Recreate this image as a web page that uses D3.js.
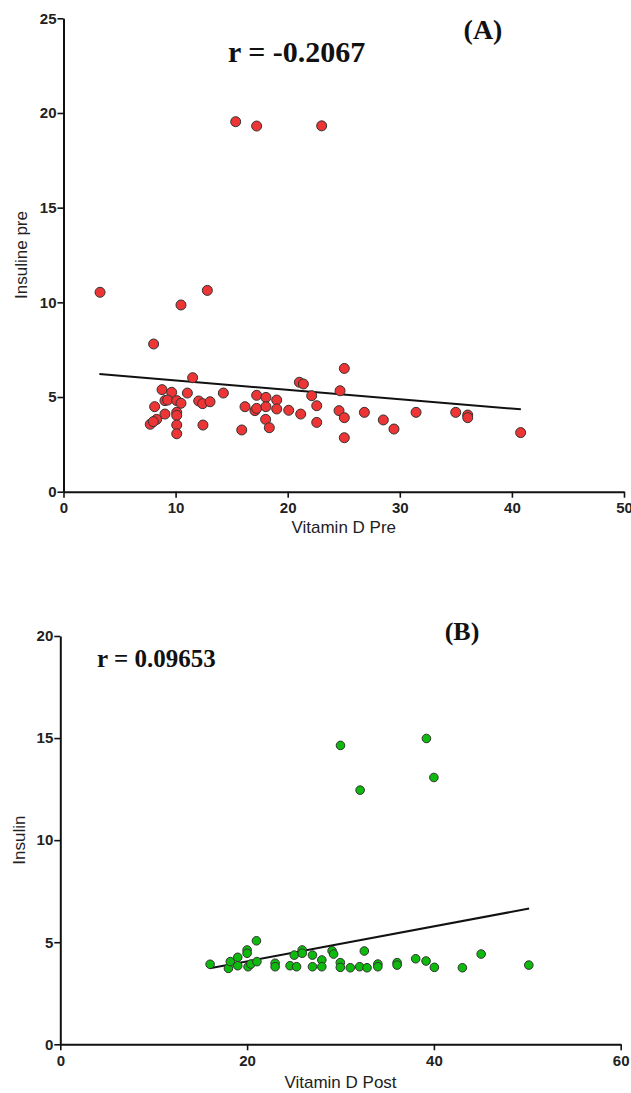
<!DOCTYPE html>
<html>
<head>
<meta charset="utf-8">
<script src="https://cdn.jsdelivr.net/npm/d3@7"></script>
<style>
  body { margin: 0; background: #fff; }
  svg { display: block; }
</style>
</head>
<body>
<div id="chart"></div>
<script>
// panel A: vitamin D pre vs insuline pre
let vitDPre = [3.26, 15.36, 17.23, 23.03, 12.83, 10.48, 8.04, 11.52, 8.79, 9.65, 11.05, 14.26, 8.13, 9.05, 9.29, 10.1, 10.48, 12.06, 12.41, 13.07, 9.05, 10.1, 10.1, 8.31, 7.74, 8.01, 10.1, 10.1, 12.44, 15.9, 16.19, 17.23, 17.08, 17.23, 18.06, 18.06, 18.03, 18.36, 19.02, 19.02, 20.09, 21.04, 21.4, 21.16, 22.14, 22.59, 22.59, 25.05, 24.67, 24.58, 25.05, 25.05, 26.84, 28.53, 29.48, 31.45, 34.99, 36.06, 36.06, 40.78];
let insPre = [10.53, 19.54, 19.31, 19.32, 10.63, 9.86, 7.80, 6.02, 5.39, 5.25, 5.21, 5.21, 4.49, 4.81, 4.84, 4.81, 4.67, 4.79, 4.65, 4.75, 4.10, 4.19, 4.03, 3.82, 3.56, 3.70, 3.52, 3.06, 3.52, 3.26, 4.49, 5.09, 4.28, 4.40, 4.98, 4.49, 3.82, 3.38, 4.84, 4.37, 4.30, 5.78, 5.69, 4.10, 5.07, 4.54, 3.66, 6.51, 5.33, 4.28, 3.91, 2.85, 4.19, 3.79, 3.31, 4.19, 4.19, 4.05, 3.91, 3.12];
let fitPre = [[3.2, 6.21], [40.8, 4.35]];
let ticksXPre = [0, 10, 20, 30, 40, 50];
let ticksYPre = [0, 5, 10, 15, 20, 25];

// panel B: vitamin D post vs insulin
let vitDPost = [30.0, 39.2, 32.1, 40.0, 16.04, 18.0, 18.2, 19.0, 19.0, 20.0, 20.0, 20.1, 20.4, 21.05, 21.0, 23.0, 23.0, 24.6, 25.3, 25.05, 25.9, 25.9, 27.0, 27.0, 28.0, 28.0, 29.1, 29.26, 29.98, 29.98, 31.05, 32.05, 32.55, 32.84, 34.0, 34.0, 36.06, 36.06, 38.05, 39.16, 40.05, 43.05, 45.06, 50.16];
let insPost = [14.64, 14.98, 12.45, 13.07, 3.92, 3.72, 4.05, 4.26, 3.85, 4.62, 4.46, 3.80, 3.93, 4.05, 5.07, 3.97, 3.80, 3.85, 3.80, 4.37, 4.62, 4.46, 4.37, 3.80, 4.13, 3.80, 4.58, 4.42, 4.0, 3.77, 3.75, 3.80, 4.57, 3.75, 3.93, 3.80, 4.0, 3.88, 4.19, 4.08, 3.77, 3.75, 4.42, 3.88];
let fitPost = [[16.0, 3.72], [50.2, 6.65]];
let ticksXPost = [0, 20, 40, 60];
let ticksYPost = [0, 5, 10, 15, 20];

let width = 631;
let height = 1093;

let svg = d3.select("#chart")
    .append("svg")
    .attr("width", width)
    .attr("height", height)
    .attr("viewBox", [0, 0, width, height]);

function panel(opt) {
    let x = d3.scaleLinear().domain(opt.xDomain).range(opt.xRange);
    let y = d3.scaleLinear().domain(opt.yDomain).range(opt.yRange);
    let g = svg.append("g");

    let styleAxis = a => a
        .call(a => a.select(".domain").attr("stroke", "#111").attr("stroke-width", 2))
        .call(a => a.selectAll(".tick line").attr("stroke", "#111").attr("stroke-width", 1.6))
        .call(a => a.selectAll(".tick text")
            .attr("fill", "#222")
            .attr("font-family", "'Liberation Sans', Arial, sans-serif")
            .attr("font-weight", "bold")
            .attr("font-size", 15));

    g.append("g")
        .attr("transform", `translate(0,${opt.yRange[0]})`)
        .call(d3.axisBottom(x).tickValues(opt.xTicks).tickSize(6).tickSizeOuter(0).tickPadding(5))
        .call(styleAxis);

    g.append("g")
        .attr("transform", `translate(${opt.xRange[0]},0)`)
        .call(d3.axisLeft(y).tickValues(opt.yTicks).tickSize(6).tickSizeOuter(0).tickPadding(1))
        .call(styleAxis);

    // axis titles
    g.append("text")
        .attr("x", (opt.xRange[0] + opt.xRange[1]) / 2)
        .attr("y", opt.yRange[0] + opt.xTitleDy)
        .attr("text-anchor", "middle")
        .attr("font-family", "'Liberation Sans', Arial, sans-serif")
        .attr("font-size", 17)
        .attr("fill", "#222")
        .text(opt.xTitle);

    g.append("text")
        .attr("transform", `translate(${opt.yTitleX},${(opt.yRange[0] + opt.yRange[1]) / 2}) rotate(-90)`)
        .attr("text-anchor", "middle")
        .attr("font-family", "'Liberation Sans', Arial, sans-serif")
        .attr("font-size", 17)
        .attr("fill", "#222")
        .text(opt.yTitle);

    // regression line
    let line = d3.line().x(d => x(d[0])).y(d => y(d[1]));
    g.append("path")
        .datum(opt.fit)
        .attr("fill", "none")
        .attr("stroke", "#111")
        .attr("stroke-width", 2)
        .attr("d", line);

    g.append("g")
        .attr("fill", opt.color)
        .attr("stroke", "#333")
        .attr("stroke-width", 1)
        .selectAll("circle")
        .data(d3.range(opt.xs.length))
        .join("circle")
        .attr("cx", i => x(opt.xs[i]))
        .attr("cy", i => y(opt.ys[i]))
        .attr("r", opt.r);

    // r value and panel letter
    g.append("text")
        .attr("x", opt.rPos[0])
        .attr("y", opt.rPos[1])
        .attr("font-family", "'Liberation Serif', 'Times New Roman', serif")
        .attr("font-weight", "bold")
        .attr("font-size", opt.rSize)
        .attr("fill", "#111")
        .text(opt.rText);

    g.append("text")
        .attr("x", opt.labelPos[0])
        .attr("y", opt.labelPos[1])
        .attr("text-anchor", "middle")
        .attr("font-family", "'Liberation Serif', 'Times New Roman', serif")
        .attr("font-weight", "bold")
        .attr("font-size", opt.labelSize)
        .attr("fill", "#111")
        .text(opt.label);
}

panel({
    xs: vitDPre, ys: insPre, fit: fitPre,
    xDomain: [0, 50], xRange: [63.5, 624],
    yDomain: [0, 25], yRange: [491.7, 18.3],
    xTicks: ticksXPre, yTicks: ticksYPre,
    xTitle: "Vitamin D Pre", xTitleDy: 41,
    yTitle: "Insuline pre", yTitleX: 27,
    color: "#ee3535", r: 5,
    rText: "r = -0.2067", rPos: [228, 62], rSize: 30,
    label: "(A)", labelPos: [483, 39], labelSize: 28
});

panel({
    xs: vitDPost, ys: insPost, fit: fitPost,
    xDomain: [0, 60], xRange: [60.3, 620.7],
    yDomain: [0, 20], yRange: [1044.3, 636],
    xTicks: ticksXPost, yTicks: ticksYPost,
    xTitle: "Vitamin D Post", xTitleDy: 44,
    yTitle: "Insulin", yTitleX: 25,
    color: "#0dba0d", r: 4.3,
    rText: "r = 0.09653", rPos: [97, 667], rSize: 25,
    label: "(B)", labelPos: [462, 640], labelSize: 26
});
</script>
</body>
</html>
